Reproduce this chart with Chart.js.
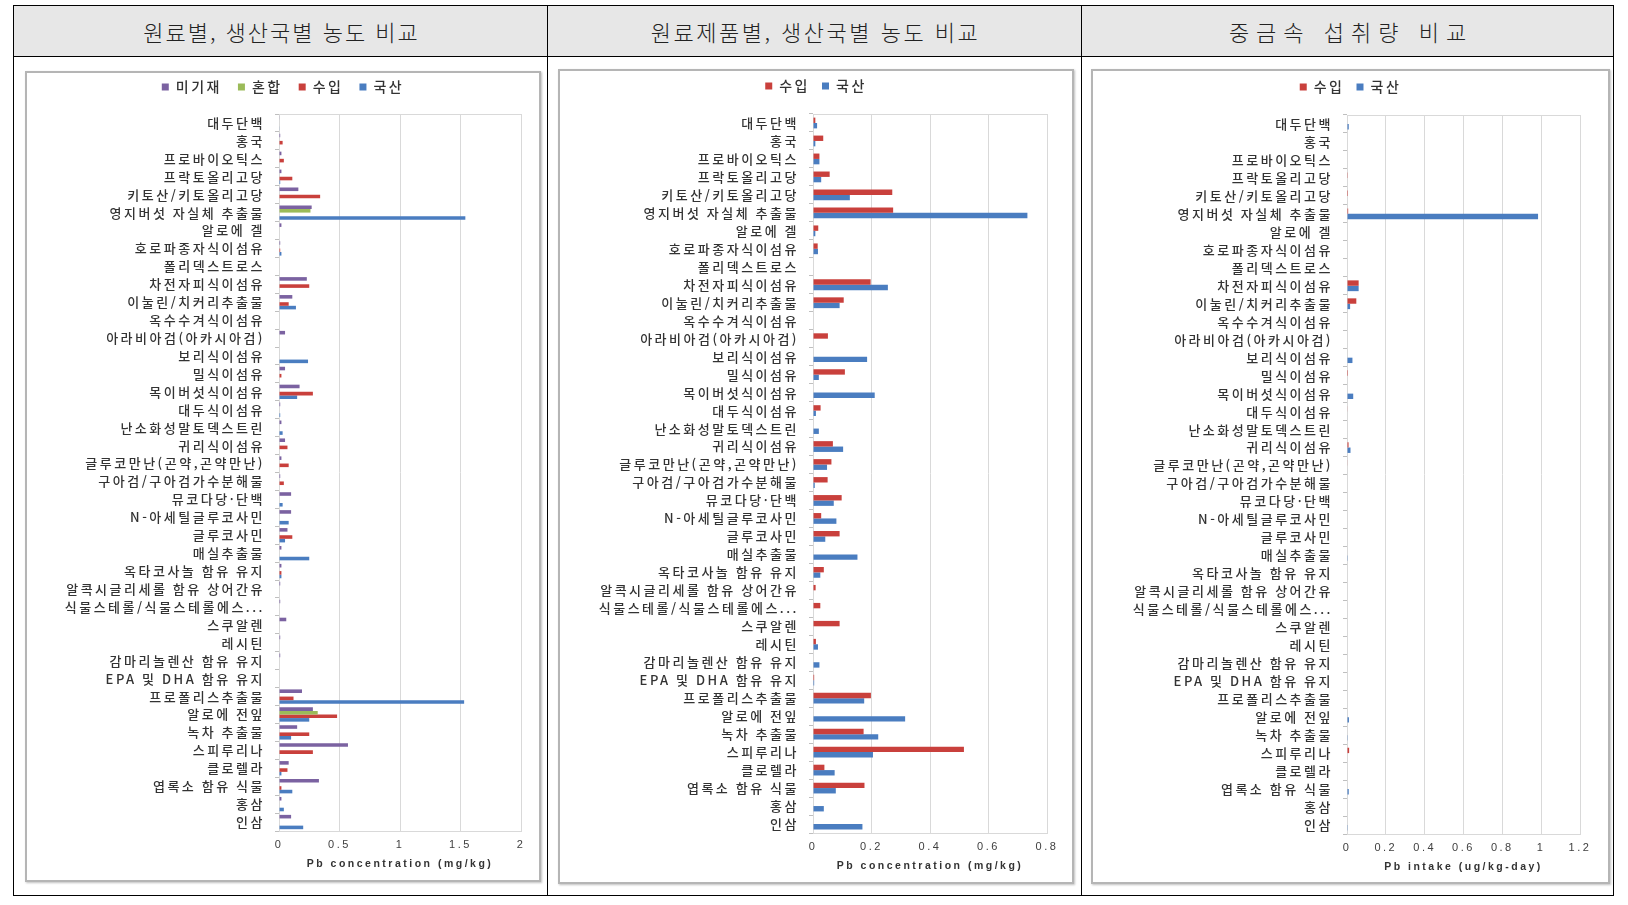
<!DOCTYPE html>
<html lang="ko">
<head>
<meta charset="utf-8">
<title>Pb 농도 및 섭취량 비교</title>
<script src="https://cdn.jsdelivr.net/npm/chart.js@4.4.0/dist/chart.umd.min.js"></script>
<style>
html, body { margin: 0; padding: 0; background: #fff; }
body { width: 1628px; height: 905px; position: relative; overflow: hidden; font-family: "Noto Sans CJK KR", sans-serif; }
.line { position: absolute; background: #000; }
.head { position: absolute; top: 6px; height: 50px; background: #e7e7e7; display: flex; align-items: center; justify-content: center; font-size: 22px; color: #222; font-weight: 300; }
.frame { position: absolute; box-sizing: border-box; border: 2px solid #b5b5b5; pointer-events: none; box-shadow: 1px 1px 2px rgba(0,0,0,.25); }
canvas { position: absolute; }
</style>
</head>
<body>
<div class="head" style="left:14px;width:533px;letter-spacing:2px;padding-left:2px;box-sizing:border-box;">원료별, 생산국별 농도 비교</div>
<div class="head" style="left:548px;width:533px;letter-spacing:2.5px;padding-left:2px;box-sizing:border-box;">원료제품별, 생산국별 농도 비교</div>
<div class="head" style="left:1082px;width:531px;letter-spacing:7px;padding-left:7px;box-sizing:border-box;">중금속 섭취량 비교</div>

<div class="line" style="left:13px;top:5px;width:1601px;height:1px;"></div>
<div class="line" style="left:13px;top:56px;width:1601px;height:1px;"></div>
<div class="line" style="left:13px;top:895px;width:1601px;height:1px;"></div>
<div class="line" style="left:13px;top:5px;width:1px;height:891px;"></div>
<div class="line" style="left:547px;top:5px;width:1px;height:891px;"></div>
<div class="line" style="left:1081px;top:5px;width:1px;height:891px;"></div>
<div class="line" style="left:1613px;top:5px;width:1px;height:891px;"></div>

<canvas id="c1" width="516" height="811" style="left:25px;top:71px;"></canvas>
<canvas id="c2" width="516" height="815" style="left:558px;top:69px;"></canvas>
<canvas id="c3" width="519" height="815" style="left:1091px;top:69px;"></canvas>
<div class="frame" style="left:25px;top:71px;width:516px;height:811px;"></div>
<div class="frame" style="left:558px;top:69px;width:516px;height:815px;"></div>
<div class="frame" style="left:1091px;top:69px;width:519px;height:815px;"></div>

<script>
// 원료 / 원료제품 구분 (위에서 아래 순서)
var categories = ['대두단백', '홍국', '프로바이오틱스', '프락토올리고당', '키토산/키토올리고당',
  '영지버섯 자실체 추출물', '알로에 겔', '호로파종자식이섬유', '폴리덱스트로스', '차전자피식이섬유',
  '이눌린/치커리추출물', '옥수수겨식이섬유', '아라비아검(아카시아검)', '보리식이섬유', '밀식이섬유',
  '목이버섯식이섬유', '대두식이섬유', '난소화성말토덱스트린', '귀리식이섬유', '글루코만난(곤약,곤약만난)',
  '구아검/구아검가수분해물', '뮤코다당·단백', 'N-아세틸글루코사민', '글루코사민', '매실추출물',
  '옥타코사놀 함유 유지', '알콕시글리세롤 함유 상어간유', '식물스테롤/식물스테롤에스...', '스쿠알렌', '레시틴',
  '감마리놀렌산 함유 유지', 'EPA 및 DHA 함유 유지', '프로폴리스추출물', '알로에 전잎', '녹차 추출물',
  '스피루리나', '클로렐라', '엽록소 함유 식물', '홍삼', '인삼'];

// 원료별 Pb 농도 (mg/kg)
var rawUnknown = [0.005, 0.01, 0.02, 0.02, 0.16, 0.27, 0.02, 0.01, null, 0.23,
  0.11, null, 0.05, null, 0.05, 0.17, 0.01, 0.02, 0.05, 0.02,
  0.01, 0.10, 0.10, 0.07, 0.02, 0.02, 0.01, 0.01, 0.06, 0.01,
  0.01, null, 0.19, 0.28, 0.15, 0.57, 0.08, 0.33, 0.02, 0.10];
var rawMixed = [null, null, null, null, null, 0.26, null, null, null, null,
  null, null, null, null, null, null, null, null, null, null,
  null, null, null, null, null, null, null, null, null, null,
  null, null, null, 0.32, null, null, null, null, null, null];
var rawImport = [null, 0.03, 0.04, 0.11, 0.34, null, null, 0.01, null, 0.25,
  0.08, null, null, null, 0.02, 0.28, null, null, 0.07, 0.08,
  0.04, null, null, 0.11, null, 0.02, null, null, null, null,
  null, null, 0.12, 0.48, 0.25, 0.28, 0.07, 0.02, null, null];
var rawDomestic = [0.005, null, null, 0.01, null, 1.54, null, 0.02, null, null,
  0.14, null, null, 0.24, null, 0.15, 0.01, 0.03, null, null,
  null, 0.03, 0.08, 0.05, 0.25, 0.02, null, null, null, null,
  null, null, 1.53, 0.25, 0.10, null, 0.02, 0.11, 0.04, 0.20];

// 원료제품별 Pb 농도 (mg/kg)
var prodImport = [0.008, 0.035, 0.022, 0.057, 0.271, 0.274, 0.018, 0.016, null, 0.197,
  0.105, null, 0.051, null, 0.109, null, 0.026, null, 0.068, 0.063,
  0.05, 0.098, 0.028, 0.091, null, 0.037, 0.009, 0.025, 0.091, 0.01,
  null, 0.004, 0.198, null, 0.173, 0.516, 0.039, 0.176, null, null];
var prodDomestic = [0.014, 0.008, 0.022, 0.028, 0.126, 0.733, 0.008, 0.017, null, 0.256,
  0.091, null, null, 0.185, 0.02, 0.211, 0.01, 0.02, 0.103, 0.048,
  0.006, 0.071, 0.08, 0.042, 0.152, 0.025, null, null, null, 0.017,
  0.022, 0.004, 0.175, 0.315, 0.223, 0.205, 0.074, 0.078, 0.037, 0.169];

// Pb 섭취량 (ug/kg-day)
var intakeImport = [null, null, null, 0.004, 0.005, 0.006, null, null, null, 0.06,
  0.048, null, null, null, 0.005, null, 0.003, null, 0.008, 0.003,
  null, null, null, null, null, null, null, null, null, null,
  null, null, null, null, null, 0.011, null, null, null, null];
var intakeDomestic = [0.009, null, null, null, null, 0.984, null, null, null, 0.06,
  0.016, null, null, 0.028, null, 0.032, null, null, 0.018, null,
  null, null, null, null, 0.004, null, null, null, null, null,
  null, null, null, 0.01, 0.004, null, null, 0.009, null, 0.004];

// x축 눈금
var concTicks1 = [0, 0.5, 1, 1.5, 2];
var concTicks2 = [0, 0.2, 0.4, 0.6, 0.8];
var intakeTicks = [0, 0.2, 0.4, 0.6, 0.8, 1, 1.2];

var PURPLE = '#7b62a1', GREEN = '#9bbb59', RED = '#c9403c', BLUE = '#4a7dc0';
var KR = '"Noto Sans CJK KR", sans-serif';
var LAT = '"Liberation Sans", Arial, sans-serif';

// 글자 간격 (엑셀 굴림 느낌)
var textSpacing = {
  id: 'textSpacing',
  beforeUpdate: function (chart) { chart.ctx.letterSpacing = '2.5px'; },
  beforeDraw: function (chart) { chart.ctx.letterSpacing = '2.5px'; }
};
// 범례: 높이 고정 + 캔버스 전체 폭 기준 가운데 정렬
var legendHeight = {
  id: 'legendHeight',
  beforeUpdate: function (chart, args, opts) {
    var lg = chart.legend;
    if (!lg || lg._fixed) return;
    var fit = lg.fit;
    lg.fit = function () { fit.call(this); this.height = opts.h; };
    lg._fixed = true;
  },
  afterLayout: function (chart) {
    var lg = chart.legend;
    if (!lg) return;
    lg.left = 0;
    lg.right = chart.width;
    lg.width = chart.width;
  }
};
// 그림 영역 테두리
var plotFrame = {
  id: 'plotFrame',
  beforeDatasetsDraw: function (chart) {
    var a = chart.chartArea, ctx = chart.ctx;
    ctx.save();
    ctx.strokeStyle = '#d9d9d9';
    ctx.lineWidth = 1;
    ctx.strokeRect(Math.round(a.left) + 0.5, Math.round(a.top) + 0.5, Math.round(a.width), Math.round(a.height));
    ctx.restore();
  }
};

function drawChart(id, datasets, xTicks, xTitle, g) {
  return new Chart(document.getElementById(id), {
    type: 'bar',
    data: { labels: categories, datasets: datasets },
    options: {
      indexAxis: 'y',
      responsive: false,
      animation: false,
      layout: { padding: { top: g.padTop, right: g.padRight, bottom: g.padBottom, left: 0 } },
      datasets: { bar: { barPercentage: 1, categoryPercentage: g.catPct, borderWidth: 0 } },
      plugins: {
        legend: {
          position: 'top',
          labels: { boxWidth: 7, boxHeight: 7, padding: g.legendPad, color: '#333', font: { family: KR, size: 14, weight: '500' } }
        },
        tooltip: { enabled: false },
        legendHeight: { h: g.legendH }
      },
      scales: {
        x: {
          min: xTicks[0],
          max: xTicks[xTicks.length - 1],
          ticks: {
            stepSize: xTicks[1] - xTicks[0], padding: 7, color: '#404040', font: { family: LAT, size: 11 },
            callback: function (v) { return String(Math.round(v * 100) / 100); }
          },
          grid: { color: '#d9d9d9', drawTicks: false },
          border: { color: '#d9d9d9' },
          title: { display: true, text: xTitle, color: '#333', font: { family: LAT, size: 10.5, weight: 'bold' }, padding: { top: 0, bottom: 6 } },
          afterFit: function (s) { s.height = 45; }
        },
        y: {
          ticks: { padding: 10, color: '#333', autoSkip: false, font: { family: KR, size: 13, weight: '500' } },
          grid: { drawOnChartArea: false, tickLength: 4, color: '#bfbfbf' },
          border: { color: '#bfbfbf' },
          afterFit: function (s) { s.width = g.yWidth; }
        }
      }
    },
    plugins: [textSpacing, legendHeight, plotFrame]
  });
}

drawChart('c1', [
  { label: '미기재', data: rawUnknown, backgroundColor: PURPLE },
  { label: '혼합', data: rawMixed, backgroundColor: GREEN },
  { label: '수입', data: rawImport, backgroundColor: RED },
  { label: '국산', data: rawDomestic, backgroundColor: BLUE }
], concTicks1, 'Pb concentration (mg/kg)',
  { padTop: -7, padRight: 20, padBottom: 6, legendH: 50, legendPad: 16, yWidth: 254, catPct: 0.8 });

drawChart('c2', [
  { label: '수입', data: prodImport, backgroundColor: RED },
  { label: '국산', data: prodDomestic, backgroundColor: BLUE }
], concTicks2, 'Pb concentration (mg/kg)',
  { padTop: -2, padRight: 27, padBottom: 6, legendH: 47, legendPad: 12, yWidth: 255, catPct: 0.6 });

drawChart('c3', [
  { label: '수입', data: intakeImport, backgroundColor: RED },
  { label: '국산', data: intakeDomestic, backgroundColor: BLUE }
], intakeTicks, 'Pb intake (ug/kg-day)',
  { padTop: -1, padRight: 30, padBottom: 5, legendH: 47, legendPad: 12, yWidth: 256, catPct: 0.6 });
</script>
</body>
</html>
